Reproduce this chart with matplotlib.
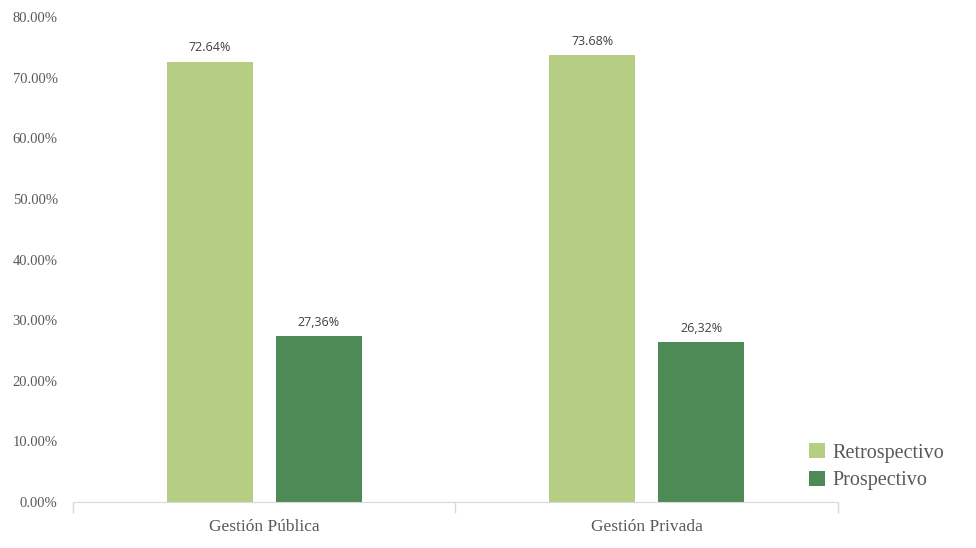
import numpy as np
import matplotlib.pyplot as plt
from matplotlib.ticker import FuncFormatter, FixedLocator

categories = ["Gestión Pública", "Gestión Privada"]
retro = [72.64, 73.68]
prosp = [27.36, 26.32]
retro_labels = ["72.64%", "73.68%"]
prosp_labels = ["27,36%", "26,32%"]

LIGHT = "#B5CE84"
DARK = "#4E8A55"
SERIF = ["Liberation Serif", "DejaVu Serif"]

fig = plt.figure(figsize=(9.76, 5.48), dpi=100)
ax = fig.add_axes([0.0748, 0.0839, 0.7838, 0.885])

x = np.arange(len(categories))
w = 0.225
off = 0.143
b1 = ax.bar(x - off, retro, w, color=LIGHT, label="Retrospectivo")
b2 = ax.bar(x + off, prosp, w, color=DARK, label="Prospectivo")

for bars, labs in ((b1, retro_labels), (b2, prosp_labels)):
    for r, t in zip(bars, labs):
        ax.text(r.get_x() + r.get_width() / 2, r.get_height() + 1.2, t,
                ha="center", va="bottom", fontsize=9, color="#404040",
                family=["Open Sans", "DejaVu Sans"])

ax.set_xlim(-0.5, len(categories) - 0.5)
ax.set_ylim(0, 80)
ax.set_yticks(np.arange(0, 81, 10))
ax.yaxis.set_major_formatter(FuncFormatter(lambda v, p: f"{v:.2f}%"))
ax.tick_params(axis="y", length=0, pad=11, labelsize=10.5, labelcolor="#595959")
ax.set_xticks(x)
ax.set_xticklabels(categories)
ax.tick_params(axis="x", length=0, pad=12, labelsize=12.5, labelcolor="#595959")
ax.xaxis.set_minor_locator(FixedLocator(np.arange(-0.5, len(categories), 1.0)))
ax.tick_params(axis="x", which="minor", length=8, color="#D9D9D9", width=1)
for lab in ax.get_xticklabels() + ax.get_yticklabels():
    lab.set_family(SERIF)

for s in ("top", "right", "left"):
    ax.spines[s].set_visible(False)
ax.spines["bottom"].set_color("#D9D9D9")

leg = fig.legend(loc="upper left", bbox_to_anchor=(0.81, 0.225), frameon=False,
                 prop={"family": SERIF, "size": 14.5}, handlelength=0.8,
                 handleheight=0.8, handletextpad=0.4, labelspacing=0.4)
for t in leg.get_texts():
    t.set_color("#595959")

fig.savefig("out.png", dpi=100)
